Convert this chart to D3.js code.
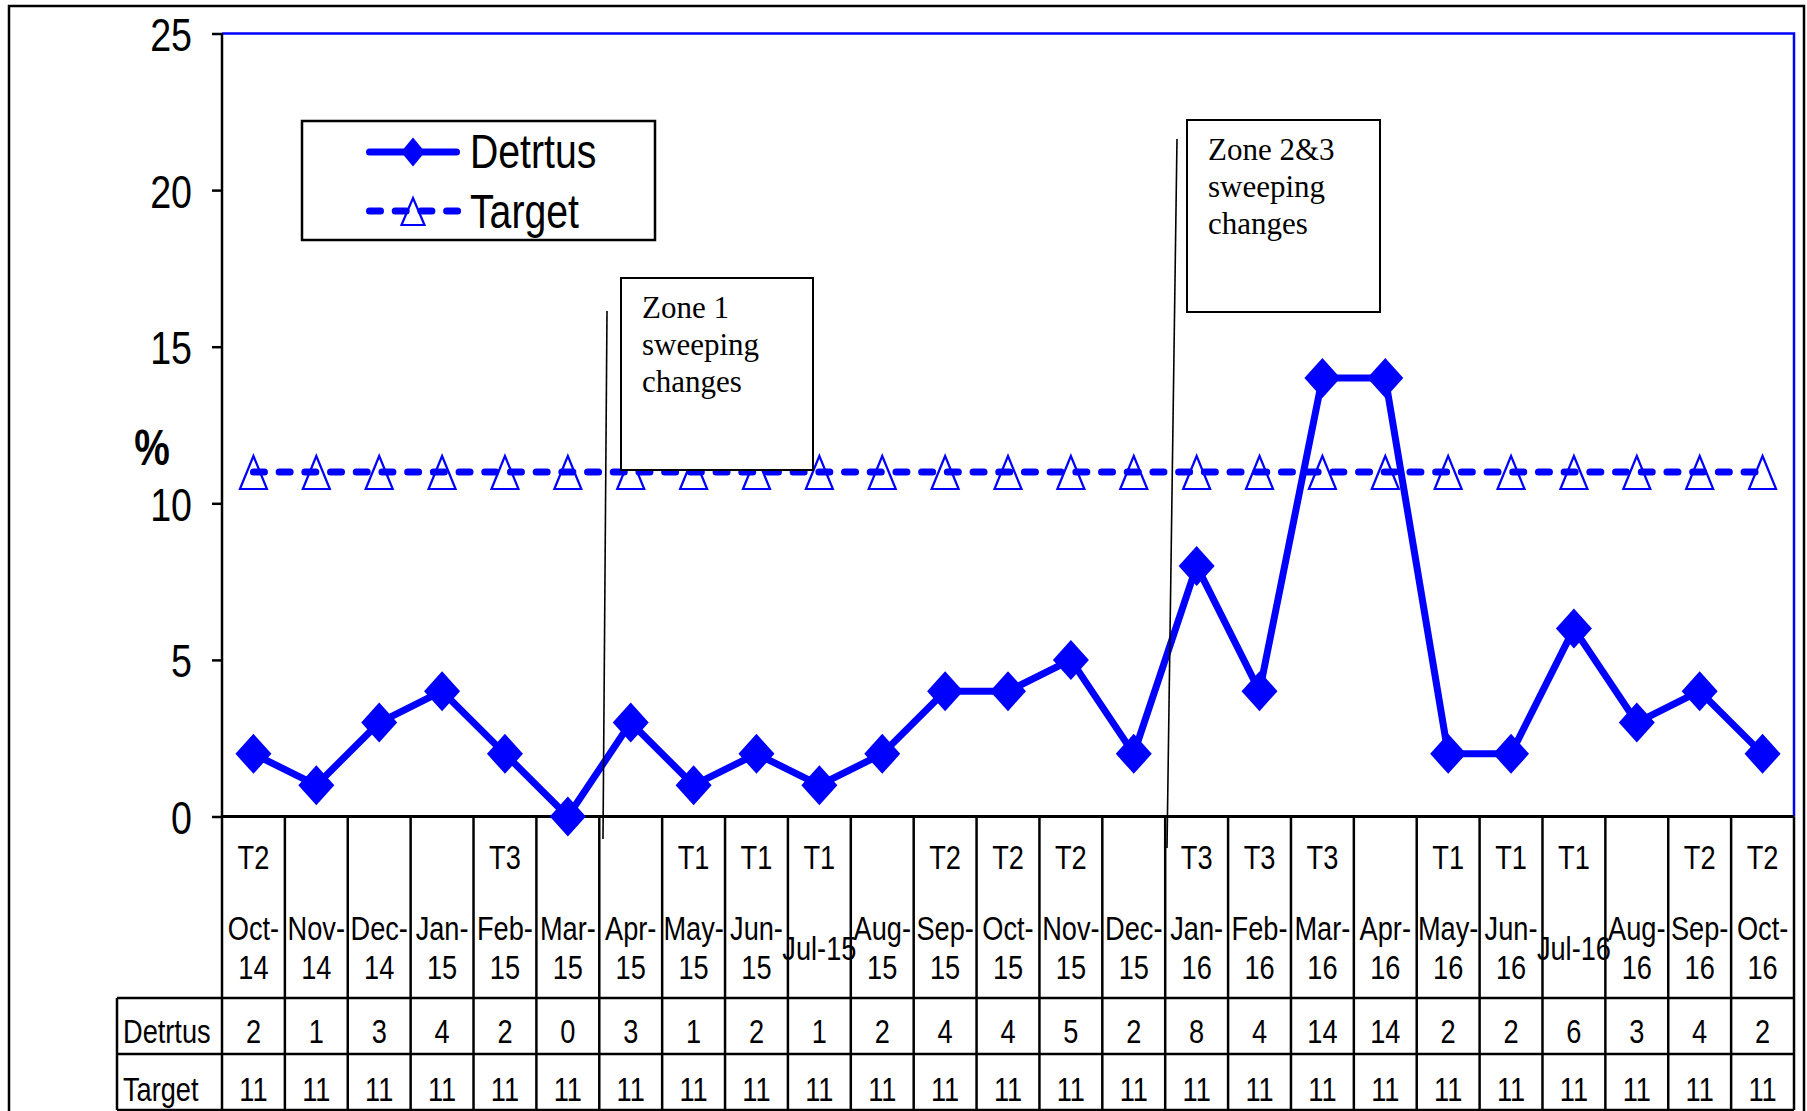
<!DOCTYPE html>
<html>
<head>
<meta charset="utf-8">
<script src="https://cdn.jsdelivr.net/npm/d3@7/dist/d3.min.js"></script>
<style>
  body { margin: 0; background: #fff; }
  svg { display: block; }
</style>
</head>
<body>
<div class="vis-holder"></div>
<script>
// chart data
var categories = ["Oct-14", "Nov-14", "Dec-14", "Jan-15", "Feb-15", "Mar-15", "Apr-15", "May-15",
                  "Jun-15", "Jul-15", "Aug-15", "Sep-15", "Oct-15", "Nov-15", "Dec-15", "Jan-16",
                  "Feb-16", "Mar-16", "Apr-16", "May-16", "Jun-16", "Jul-16", "Aug-16", "Sep-16", "Oct-16"];
var terms = ["T2", "", "", "", "T3", "", "", "T1", "T1", "T1", "", "T2", "T2", "T2", "",
             "T3", "T3", "T3", "", "T1", "T1", "T1", "", "T2", "T2"];
var detrtus = [2, 1, 3, 4, 2, 0, 3, 1, 2, 1, 2, 4, 4, 5, 2, 8, 4, 14, 14, 2, 2, 6, 3, 4, 2];
var target = [11, 11, 11, 11, 11, 11, 11, 11, 11, 11, 11, 11, 11, 11, 11, 11, 11, 11, 11, 11, 11, 11, 11, 11, 11];
var yTicks = [0, 5, 10, 15, 20, 25];
// labels that fit on one line in the table
var oneLine = ["Jul-15", "Jul-16"];
var notes = [
  { lines: ["Zone 1", "sweeping", "changes"], box: [621, 278, 813, 470], pointer: [607, 311, 603, 839] },
  { lines: ["Zone 2&3", "sweeping", "changes"], box: [1187, 120, 1380, 312], pointer: [1177, 139, 1167, 848] }
];

var width = 1807;
var height = 1111;
var plot = { left: 222, right: 1794, top: 33.5, bottom: 816.5 };
var blue = "#0000ff";
var sans = "'Liberation Sans', Arial, sans-serif";
var serif = "'Liberation Serif', 'Times New Roman', serif";
var squeeze = 0.8;

var svg = d3.select(".vis-holder")
            .append("svg")
            .attr("width", width)
            .attr("height", height);

// narrow sans text like the original
function narrowText(parent, x, y, str, size, anchor, weight) {
  return parent.append("text")
               .attr("transform", "translate(" + x + "," + y + ") scale(" + squeeze + ",1)")
               .attr("text-anchor", anchor)
               .style("font-family", sans)
               .style("font-size", size + "px")
               .style("font-weight", weight || "normal")
               .text(str);
}

// outer frame
svg.append("rect")
   .attr("x", 9).attr("y", 6)
   .attr("width", 1795).attr("height", 1300)
   .attr("fill", "none")
   .attr("stroke", "#000")
   .attr("stroke-width", 2.5);

var xScale = d3.scaleBand()
               .domain(categories)
               .range([plot.left, plot.right])
               .padding(0);

var yScale = d3.scaleLinear()
               .domain([0, 25])
               .range([plot.bottom, plot.top]);

var cx = function(i) { return xScale(categories[i]) + xScale.bandwidth() / 2; };

// plot area border (blue top and right)
svg.append("path")
   .attr("d", "M" + plot.left + "," + plot.top + "H" + plot.right + "V" + plot.bottom)
   .attr("fill", "none")
   .attr("stroke", blue)
   .attr("stroke-width", 2.5);

// y axis
var yAxis = svg.append("g")
               .attr("transform", "translate(" + plot.left + ",0)")
               .call(d3.axisLeft(yScale).tickValues(yTicks).tickSize(10).tickFormat(d3.format("d")));
yAxis.select(".domain").remove();
yAxis.selectAll("line").attr("stroke", "#000").attr("stroke-width", 2.5);
yAxis.selectAll("text")
     .attr("x", null).attr("dy", null)
     .attr("transform", "translate(-30,17) scale(" + squeeze + ",1)")
     .attr("fill", "#000")
     .style("font-family", sans)
     .style("font-size", "47px");

// axis line runs down through the table
svg.append("line")
   .attr("x1", plot.left).attr("x2", plot.left)
   .attr("y1", plot.top).attr("y2", 1110)
   .attr("stroke", "#000").attr("stroke-width", 2.5);

narrowText(svg, 152, 465, "%", 50, "middle", "bold");

// table
var rowY = [plot.bottom, 998, 1054, 1110];
var table = svg.append("g").attr("stroke", "#000").attr("stroke-width", 2.5);
table.append("line").attr("x1", plot.left).attr("x2", plot.right)
     .attr("y1", plot.bottom).attr("y2", plot.bottom).attr("stroke-width", 3);
rowY.slice(1).forEach(function(y) {
  table.append("line").attr("x1", 117).attr("x2", plot.right).attr("y1", y).attr("y2", y);
});
table.append("line").attr("x1", 117).attr("x2", 117).attr("y1", 998).attr("y2", 1110);
table.selectAll("line.col")
     .data(categories)
     .enter()
     .append("line")
     .attr("class", "col")
     .attr("x1", function(d) { return xScale(d) + xScale.bandwidth(); })
     .attr("x2", function(d) { return xScale(d) + xScale.bandwidth(); })
     .attr("y1", plot.bottom)
     .attr("y2", 1110);

var cells = svg.append("g").attr("fill", "#000");
categories.forEach(function(c, i) {
  var x = cx(i);
  if (terms[i]) narrowText(cells, x, 869, terms[i], 34, "middle");
  if (oneLine.indexOf(c) >= 0) {
    narrowText(cells, x, 960, c, 34, "middle");
  } else {
    var parts = c.split("-");
    narrowText(cells, x, 940, parts[0] + "-", 34, "middle");
    narrowText(cells, x, 979, parts[1], 34, "middle");
  }
  narrowText(cells, x, 1043, String(detrtus[i]), 34, "middle");
  narrowText(cells, x, 1101, String(target[i]), 34, "middle");
});
narrowText(cells, 123, 1043, "Detrtus", 34, "start");
narrowText(cells, 123, 1101, "Target", 34, "start");

// marker shapes
function diamondPath(x, y, hw, hh) {
  return "M" + x + "," + (y - hh) + "L" + (x + hw) + "," + y + "L" + x + "," + (y + hh) + "L" + (x - hw) + "," + y + "Z";
}
function trianglePath(x, y, hw, up, down) {
  return "M" + x + "," + (y - up) + "L" + (x + hw) + "," + (y + down) + "L" + (x - hw) + "," + (y + down) + "Z";
}

// target series
var targetLine = d3.line()
                   .x(function(d, i) { return cx(i); })
                   .y(function(d) { return yScale(d); });
svg.append("path")
   .attr("d", targetLine(target))
   .attr("fill", "none")
   .attr("stroke", blue)
   .attr("stroke-width", 7)
   .attr("stroke-linecap", "round")
   .attr("stroke-dasharray", "11,14.7");
svg.append("g")
   .selectAll("path")
   .data(target)
   .enter()
   .append("path")
   .attr("d", function(d, i) { return trianglePath(cx(i), yScale(d), 13.5, 16, 17); })
   .attr("fill", "none")
   .attr("stroke", blue)
   .attr("stroke-width", 2.2);

// detrtus series
var detLine = d3.line()
                .x(function(d, i) { return cx(i); })
                .y(function(d) { return yScale(d); });
svg.append("path")
   .attr("d", detLine(detrtus))
   .attr("fill", "none")
   .attr("stroke", blue)
   .attr("stroke-width", 7)
   .attr("stroke-linejoin", "round");
svg.append("g")
   .selectAll("path")
   .data(detrtus)
   .enter()
   .append("path")
   .attr("d", function(d, i) { return diamondPath(cx(i), yScale(d), 18, 20); })
   .attr("fill", blue);

// annotation boxes and pointers
notes.forEach(function(n) {
  svg.append("rect")
     .attr("x", n.box[0]).attr("y", n.box[1])
     .attr("width", n.box[2] - n.box[0]).attr("height", n.box[3] - n.box[1])
     .attr("fill", "#fff")
     .attr("stroke", "#000")
     .attr("stroke-width", 2);
  n.lines.forEach(function(t, k) {
    svg.append("text")
       .attr("x", n.box[0] + 21)
       .attr("y", n.box[1] + 40 + k * 37)
       .style("font-family", serif)
       .style("font-size", "31px")
       .attr("fill", "#000")
       .text(t);
  });
  svg.append("line")
     .attr("x1", n.pointer[0]).attr("y1", n.pointer[1])
     .attr("x2", n.pointer[2]).attr("y2", n.pointer[3])
     .attr("stroke", "#000")
     .attr("stroke-width", 1.6);
});

// legend
var legend = svg.append("g");
legend.append("rect")
      .attr("x", 302).attr("y", 121)
      .attr("width", 353).attr("height", 119)
      .attr("fill", "#fff")
      .attr("stroke", "#000")
      .attr("stroke-width", 2.5);
legend.append("line")
      .attr("x1", 369.5).attr("x2", 456.5).attr("y1", 152).attr("y2", 152)
      .attr("stroke", blue).attr("stroke-width", 7).attr("stroke-linecap", "round");
legend.append("path").attr("d", diamondPath(413, 152, 12, 14.5)).attr("fill", blue);
legend.append("line")
      .attr("x1", 369.5).attr("x2", 457.6).attr("y1", 211).attr("y2", 211)
      .attr("stroke", blue).attr("stroke-width", 7).attr("stroke-linecap", "round")
      .attr("stroke-dasharray", "11,14.7");
legend.append("path").attr("d", trianglePath(413, 211, 11.5, 13, 14))
      .attr("fill", "none").attr("stroke", blue).attr("stroke-width", 2.2);
narrowText(legend, 470, 168, "Detrtus", 49, "start");
narrowText(legend, 470, 228, "Target", 49, "start");
</script>
</body>
</html>
